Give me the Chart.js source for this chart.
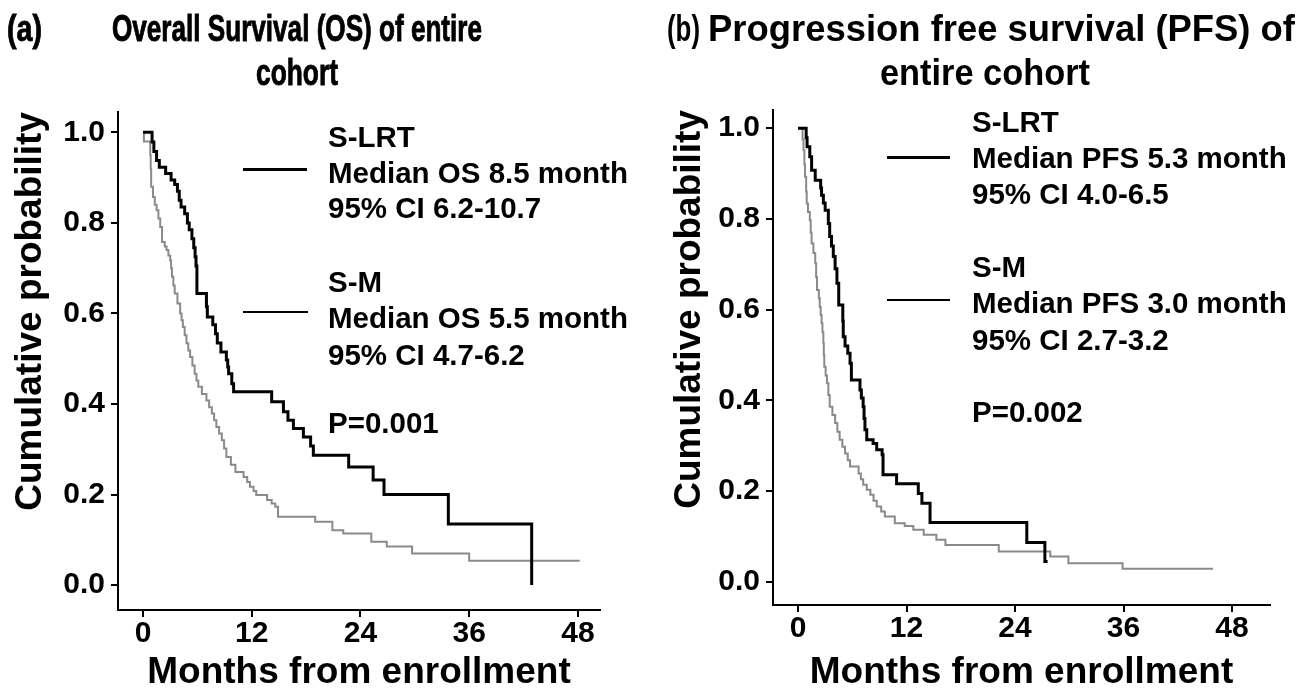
<!DOCTYPE html>
<html>
<head>
<meta charset="utf-8">
<script src="https://cdn.jsdelivr.net/npm/chart.js@4/dist/chart.umd.min.js"></script>
<style>
  body { margin: 0; width: 1308px; height: 691px; position: relative; background: #fff; overflow: hidden; }
  canvas { position: absolute; top: 0; }
  .t { position: absolute; white-space: nowrap; font-family: 'Liberation Sans', Arial, sans-serif;
       font-weight: bold; line-height: 1; color: #000; transform-origin: 0 0; }
  .ttl { font-size: 37px; }
  .narrow { -webkit-text-stroke: 0.9px #000; }
  .lg { font-size: 29.5px; }
  .seg { position: absolute; background: #000; }
</style>
</head>
<body>
<canvas id="osChart" width="654" height="691" style="left:0"></canvas>
<canvas id="pfsChart" width="654" height="691" style="left:654px"></canvas>

<!-- titres -->
<div class="t ttl narrow" style="left:7px;top:10px" data-w="35">(a)</div>
<div class="t ttl narrow" style="left:112px;top:10px" data-w="370">Overall Survival (OS) of entire</div>
<div class="t ttl narrow" style="left:256px;top:54px" data-w="82">cohort</div>
<div class="t ttl" style="left:667px;top:10px" data-w="33">(b)</div>
<div class="t ttl" style="left:708px;top:10px" data-w="587">Progression free survival (PFS) of</div>
<div class="t ttl" style="left:880px;top:54px" data-w="210">entire cohort</div>

<!-- légendes OS -->
<div class="t lg" style="left:328px;top:122px">S-LRT</div>
<div class="t lg" style="left:328px;top:158px">Median OS 8.5 month</div>
<div class="t lg" style="left:328px;top:193px">95% CI 6.2-10.7</div>
<div class="t lg" style="left:328px;top:267px">S-M</div>
<div class="t lg" style="left:328px;top:303px">Median OS 5.5 month</div>
<div class="t lg" style="left:328px;top:340px">95% CI 4.7-6.2</div>
<div class="t lg" style="left:328px;top:408px">P=0.001</div>
<div class="seg" style="left:243px;top:168px;width:64px;height:3px"></div>
<div class="seg" style="left:243px;top:311px;width:65px;height:1.5px"></div>

<!-- légendes PFS -->
<div class="t lg" style="left:972px;top:107px">S-LRT</div>
<div class="t lg" style="left:972px;top:143px">Median PFS 5.3 month</div>
<div class="t lg" style="left:972px;top:179px">95% CI 4.0-6.5</div>
<div class="t lg" style="left:972px;top:252px">S-M</div>
<div class="t lg" style="left:972px;top:288px">Median PFS 3.0 month</div>
<div class="t lg" style="left:972px;top:325px">95% CI 2.7-3.2</div>
<div class="t lg" style="left:972px;top:397px">P=0.002</div>
<div class="seg" style="left:887px;top:156px;width:63px;height:3px"></div>
<div class="seg" style="left:887px;top:299px;width:63px;height:1.5px"></div>

<script>
const monthTicks = [0, 12, 24, 36, 48];
const probTicks = [0, 0.2, 0.4, 0.6, 0.8, 1.0];

// OS - S-LRT
const osLrtMonths = [0, 1.0, 1.2, 1.5, 1.8, 2.5, 3.1, 3.5, 3.8, 4.0, 4.2, 4.6, 4.9, 5.1, 5.4, 5.6, 5.75, 5.85, 5.95,
  7.0, 7.1, 7.7, 8.0, 8.2, 8.6, 9.2, 9.35, 9.45, 9.8, 10.0, 14.2, 15.5, 16.0, 16.6, 17.7, 18.5, 18.8,
  22.7, 25.4, 26.6, 33.7, 42.9];
const osLrtSurv = [1.0, 0.979, 0.958, 0.938, 0.923, 0.909, 0.895, 0.885, 0.87, 0.85, 0.835, 0.82, 0.8, 0.785, 0.765, 0.745, 0.725, 0.705, 0.644,
  0.615, 0.592, 0.575, 0.555, 0.535, 0.515, 0.497, 0.482, 0.467, 0.445, 0.427, 0.405, 0.383, 0.364, 0.346, 0.327, 0.307, 0.287,
  0.261, 0.232, 0.2, 0.135, 0.0];

// OS - S-M
const osSmMonths = [0, 0.1, 0.8, 0.85, 0.9, 1.1, 1.3, 1.5, 1.7, 1.9, 2.1, 2.4, 2.6, 2.8, 3.0, 3.1, 3.2, 3.35, 3.5, 3.8,
  4.1, 4.25, 4.4, 4.6, 4.8, 5.0, 5.2, 5.45, 5.7, 5.9, 6.1, 6.5, 7.0, 7.3, 7.6, 7.85, 8.1, 8.4, 8.7, 8.95,
  9.2, 9.7, 10.2, 11.1, 11.5, 11.8, 12.2, 12.5, 13.7, 14.2, 14.6, 14.9, 19.0, 20.9, 22.1, 25.2, 26.9, 29.7, 36.0, 48.2];
const osSmSurv = [1.0, 0.98, 0.95, 0.92, 0.88, 0.857, 0.84, 0.828, 0.81, 0.791, 0.758, 0.748, 0.74, 0.728, 0.717, 0.7, 0.681, 0.662, 0.644, 0.622,
  0.6, 0.585, 0.57, 0.552, 0.534, 0.518, 0.504, 0.485, 0.467, 0.452, 0.438, 0.422, 0.408, 0.393, 0.379, 0.364, 0.349, 0.335, 0.32, 0.302,
  0.283, 0.266, 0.25, 0.239, 0.228, 0.217, 0.208, 0.199, 0.188, 0.18, 0.173, 0.151, 0.14, 0.121, 0.114, 0.096, 0.085, 0.07, 0.054, 0.054];

// PFS - S-LRT
const pfsLrtMonths = [0, 0.9, 1.0, 1.3, 1.5, 1.9, 2.5, 2.6, 2.8, 3.0, 3.35, 3.5, 3.7, 3.9, 4.1, 4.3, 4.5, 4.95, 5.0,
  5.2, 5.5, 5.75, 5.9, 6.85, 7.0, 7.2, 7.3, 7.4, 7.6, 8.3, 8.7, 9.3, 9.4, 10.9, 13.3, 13.7, 14.6, 25.3, 27.3, 27.6];
const pfsLrtSurv = [1.0, 0.979, 0.959, 0.937, 0.907, 0.885, 0.868, 0.852, 0.835, 0.819, 0.79, 0.761, 0.74, 0.717, 0.69, 0.658, 0.61, 0.575, 0.54,
  0.52, 0.504, 0.482, 0.445, 0.423, 0.405, 0.386, 0.36, 0.335, 0.313, 0.305, 0.291, 0.28, 0.236, 0.216, 0.195, 0.173, 0.131, 0.087, 0.045, 0.045];

// PFS - S-M
const pfsSmMonths = [0, 0.5, 0.6, 0.7, 0.77, 0.9, 0.96, 1.1, 1.3, 1.4, 1.5, 1.7, 1.9, 2.0, 2.1, 2.3, 2.4, 2.5, 2.6, 2.7,
  2.8, 2.85, 2.9, 3.05, 3.2, 3.35, 3.5, 3.8, 4.1, 4.35, 4.6, 4.9, 5.2, 5.5, 5.75, 6.7, 6.95, 7.2, 7.6, 8.0,
  8.35, 8.7, 9.2, 9.6, 10.7, 11.8, 12.75, 13.9, 15.3, 16.3, 22.2, 27.9, 29.9, 35.9, 45.9];
const pfsSmSurv = [1.0, 0.975, 0.952, 0.92, 0.893, 0.86, 0.834, 0.815, 0.797, 0.77, 0.746, 0.725, 0.702, 0.672, 0.643, 0.625, 0.606, 0.588, 0.57, 0.55,
  0.526, 0.5, 0.474, 0.455, 0.438, 0.412, 0.386, 0.368, 0.35, 0.331, 0.313, 0.298, 0.283, 0.268, 0.254, 0.239, 0.226, 0.214, 0.203, 0.192,
  0.179, 0.166, 0.155, 0.144, 0.129, 0.123, 0.115, 0.104, 0.093, 0.081, 0.067, 0.056, 0.041, 0.029, 0.029];

Chart.defaults.font.family = "'Liberation Sans', Arial, sans-serif";
Chart.defaults.font.weight = 'bold';
Chart.defaults.color = '#000';

function kmPoints(months, surv) {
  return months.map((m, i) => ({ x: m, y: surv[i] }));
}

function makeChart(id, lrt, sm, box) {
  const ctx = document.getElementById(id).getContext('2d');
  return new Chart(ctx, {
    type: 'line',
    data: {
      datasets: [{
        label: 'S-LRT',
        data: lrt,
        borderColor: '#000',
        borderWidth: 3,
        stepped: true,
        pointRadius: 0,
        fill: false
      }, {
        label: 'S-M',
        data: sm,
        borderColor: '#8a8a8a',
        borderWidth: 2,
        stepped: true,
        pointRadius: 0,
        fill: false
      }]
    },
    options: {
      responsive: false,
      animation: false,
      layout: { padding: { left: 0, top: box.top, right: box.right, bottom: 0 } },
      plugins: { legend: { display: false }, tooltip: { enabled: false } },
      scales: {
        x: {
          type: 'linear',
          min: box.xMin,
          max: box.xMax,
          afterBuildTicks: s => { s.ticks = monthTicks.map(v => ({ value: v })); },
          afterFit: s => { s.height = box.xHeight; },
          grid: { drawOnChartArea: false, tickLength: 7, color: '#000', lineWidth: 2 },
          border: { color: '#000', width: 2 },
          ticks: { font: { size: 30, lineHeight: 1 }, padding: 2, maxRotation: 0, autoSkip: false },
          title: { display: true, text: 'Months from enrollment', font: { size: 37, lineHeight: 1 }, padding: { top: 0, bottom: 0 } }
        },
        y: {
          min: box.yMin,
          max: box.yMax,
          afterBuildTicks: s => { s.ticks = probTicks.map(v => ({ value: v })); },
          afterFit: s => { s.width = box.yWidth; },
          grid: { drawOnChartArea: false, tickLength: 7, color: '#000', lineWidth: 2 },
          border: { color: '#000', width: 2 },
          ticks: { font: { size: 30, lineHeight: 1 }, padding: 6, callback: v => v.toFixed(1) },
          title: { display: true, align: 'end', text: 'Cumulative probability', font: { size: 37, lineHeight: 1 }, padding: { top: box.yTitlePad, bottom: 0 } }
        }
      }
    }
  });
}

// Graphique (a) OS
makeChart('osChart', kmPoints(osLrtMonths, osLrtSurv), kmPoints(osSmMonths, osSmSurv), {
  top: 112, right: 54, xHeight: 81, yWidth: 118, yTitlePad: 12,
  xMin: -2.76, xMax: 50.44, yMin: -0.055, yMax: 1.045
});

// Graphique (b) PFS
makeChart('pfsChart', kmPoints(pfsLrtMonths, pfsLrtSurv), kmPoints(pfsSmMonths, pfsSmSurv), {
  top: 110, right: 38, xHeight: 86, yWidth: 119, yTitlePad: 17,
  xMin: -2.77, xMax: 52.2, yMin: -0.051, yMax: 1.04
});

// ajuster la largeur des titres
document.querySelectorAll('[data-w]').forEach(el => {
  const w = el.getBoundingClientRect().width;
  el.style.transform = 'scaleX(' + (el.dataset.w / w) + ')';
});
</script>
</body>
</html>
